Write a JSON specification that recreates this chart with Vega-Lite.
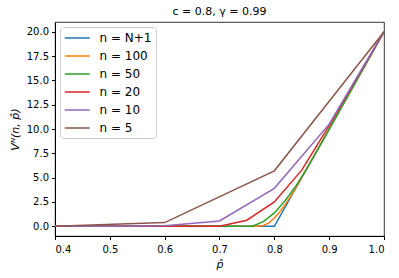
{
  "$schema": "https://vega.github.io/schema/vega-lite/v6.json",
  "width": 329,
  "height": 214,
  "autosize": {"type": "none"},
  "padding": {"left": 55, "top": 22, "right": 15, "bottom": 42},
  "title": {"text": "c = 0.8, γ = 0.99", "fontSize": 11, "fontWeight": "normal", "font": "DejaVu Sans", "offset": 5, "color": "black"},
  "config": {
    "view": {"stroke": "black", "strokeWidth": 0.8},
    "font": "DejaVu Sans",
    "axis": {"grid": false, "domainColor": "black", "tickColor": "black", "labelColor": "black", "titleColor": "black", "labelFontSize": 10, "titleFontSize": 11, "titleFontWeight": "normal", "tickSize": 3.5, "labelPadding": 3}
  },
  "data": {"values": [
    {"p": 0.4, "v": 0, "n": "n = N+1"},
    {"p": 0.5, "v": 0, "n": "n = N+1"},
    {"p": 0.6, "v": 0, "n": "n = N+1"},
    {"p": 0.7, "v": 0, "n": "n = N+1"},
    {"p": 0.8, "v": 0, "n": "n = N+1"},
    {"p": 0.9, "v": 10, "n": "n = N+1"},
    {"p": 1.0, "v": 20, "n": "n = N+1"},
    {"p": 0.4, "v": 0, "n": "n = 100"},
    {"p": 0.5, "v": 0, "n": "n = 100"},
    {"p": 0.6, "v": 0, "n": "n = 100"},
    {"p": 0.7, "v": 0, "n": "n = 100"},
    {"p": 0.77, "v": 0, "n": "n = 100"},
    {"p": 0.78, "v": 0.08, "n": "n = 100"},
    {"p": 0.79, "v": 0.35, "n": "n = 100"},
    {"p": 0.8, "v": 0.85, "n": "n = 100"},
    {"p": 0.81, "v": 1.5, "n": "n = 100"},
    {"p": 0.82, "v": 2.25, "n": "n = 100"},
    {"p": 0.83, "v": 3.1, "n": "n = 100"},
    {"p": 0.84, "v": 4.05, "n": "n = 100"},
    {"p": 0.85, "v": 5.0, "n": "n = 100"},
    {"p": 0.9, "v": 10.0, "n": "n = 100"},
    {"p": 1.0, "v": 20, "n": "n = 100"},
    {"p": 0.4, "v": 0, "n": "n = 50"},
    {"p": 0.5, "v": 0, "n": "n = 50"},
    {"p": 0.6, "v": 0, "n": "n = 50"},
    {"p": 0.7, "v": 0, "n": "n = 50"},
    {"p": 0.76, "v": 0, "n": "n = 50"},
    {"p": 0.78, "v": 0.48, "n": "n = 50"},
    {"p": 0.8, "v": 1.37, "n": "n = 50"},
    {"p": 0.82, "v": 2.65, "n": "n = 50"},
    {"p": 0.84, "v": 4.2, "n": "n = 50"},
    {"p": 0.86, "v": 6.0, "n": "n = 50"},
    {"p": 0.88, "v": 7.95, "n": "n = 50"},
    {"p": 0.9, "v": 9.95, "n": "n = 50"},
    {"p": 1.0, "v": 20, "n": "n = 50"},
    {"p": 0.4, "v": 0, "n": "n = 20"},
    {"p": 0.45, "v": 0, "n": "n = 20"},
    {"p": 0.5, "v": 0, "n": "n = 20"},
    {"p": 0.55, "v": 0, "n": "n = 20"},
    {"p": 0.6, "v": 0, "n": "n = 20"},
    {"p": 0.65, "v": 0, "n": "n = 20"},
    {"p": 0.7, "v": 0, "n": "n = 20"},
    {"p": 0.75, "v": 0.62, "n": "n = 20"},
    {"p": 0.8, "v": 2.5, "n": "n = 20"},
    {"p": 0.85, "v": 5.77, "n": "n = 20"},
    {"p": 0.9, "v": 10.35, "n": "n = 20"},
    {"p": 0.95, "v": 15.2, "n": "n = 20"},
    {"p": 1.0, "v": 20, "n": "n = 20"},
    {"p": 0.4, "v": 0, "n": "n = 10"},
    {"p": 0.5, "v": 0, "n": "n = 10"},
    {"p": 0.6, "v": 0.05, "n": "n = 10"},
    {"p": 0.7, "v": 0.55, "n": "n = 10"},
    {"p": 0.8, "v": 3.9, "n": "n = 10"},
    {"p": 0.9, "v": 10.5, "n": "n = 10"},
    {"p": 1.0, "v": 20, "n": "n = 10"},
    {"p": 0.4, "v": 0, "n": "n = 5"},
    {"p": 0.6, "v": 0.38, "n": "n = 5"},
    {"p": 0.8, "v": 5.7, "n": "n = 5"},
    {"p": 1.0, "v": 20, "n": "n = 5"}
  ]},
  "mark": {"type": "line", "strokeWidth": 1.5, "clip": true},
  "encoding": {
    "x": {"field": "p", "type": "quantitative", "scale": {"domain": [0.4, 1.0], "nice": false, "zero": false}, "axis": {"values": [0.4, 0.5, 0.6, 0.7, 0.8, 0.9, 1.0], "format": ".1f", "title": "p̂", "titleFontStyle": "italic", "titlePadding": 4, "labelPadding": 5}},
    "y": {"field": "v", "type": "quantitative", "scale": {"domain": [-1, 21], "nice": false, "zero": false}, "axis": {"values": [0, 2.5, 5, 7.5, 10, 12.5, 15, 17.5, 20], "format": ".1f", "title": "Vᴺ(n, p̂)", "titleFontStyle": "italic", "titlePadding": 6}},
    "color": {"field": "n", "type": "nominal",
      "scale": {"domain": ["n = N+1", "n = 100", "n = 50", "n = 20", "n = 10", "n = 5"], "range": ["#1f77b4", "#ff7f0e", "#2ca02c", "#d62728", "#9467bd", "#8c564b"]},
      "legend": {"title": null, "orient": "top-left", "offset": 5, "symbolType": "M-1,0H3", "symbolSize": 156, "symbolStrokeWidth": 1.5, "labelFontSize": 12, "labelColor": "black", "rowPadding": 5, "padding": 4, "fillColor": "white", "strokeColor": "#cccccc", "cornerRadius": 3, "labelOffset": 21.5}
    }
  }
}
